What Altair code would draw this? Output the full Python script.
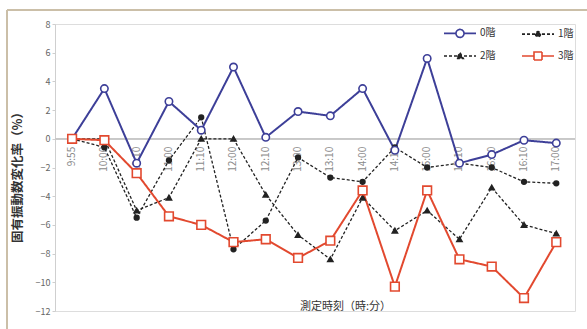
import altair as alt
import pandas as pd

# Measurement times (category axis) and the four series
times = ["9:55", "10:00", "10:10", "11:00", "11:10", "12:00", "12:10", "13:00",
         "13:10", "14:00", "14:10", "15:00", "15:10", "16:00", "16:10", "17:00"]
series_names = ["0階", "1階", "2階", "3階"]
v0 = [0, 3.5, -1.7, 2.6, 0.6, 5.0, 0.1, 1.9, 1.6, 3.5, -0.8, 5.6, -1.7, -1.1, -0.1, -0.3]
v1 = [0, -0.6, -5.5, -1.5, 1.5, -7.7, -5.7, -1.3, -2.7, -3.0, -0.6, -2.0, -1.7, -2.0, -3.0, -3.1]
v2 = [0, 0, -5.0, -4.1, 0, 0, -3.9, -6.7, -8.4, -4.1, -6.4, -5.0, -7.0, -3.4, -6.0, -6.6]
v3 = [0, -0.1, -2.4, -5.4, -6.0, -7.2, -7.0, -8.3, -7.1, -3.6, -10.3, -3.6, -8.4, -8.9, -11.1, -7.2]
y_ticks = [-12, -10, -8, -6, -4, -2, 0, 2, 4, 6, 8]

colors = ["#3d3f98", "#222222", "#222222", "#e2492f"]
fills = ["white", "#222222", "#222222", "white"]
dashes = [[1, 0], [3, 2], [3, 2], [1, 0]]
FONT = "Noto Sans CJK JP"

rows = []
for name, vals in zip(series_names, [v0, v1, v2, v3]):
    for i, (t, v) in enumerate(zip(times, vals)):
        rows.append({"idx": i, "time": t, "series": name, "value": v})
df = pd.DataFrame(rows)
labels_df = pd.DataFrame({"idx": list(range(len(times))), "time": times})

# Legend symbols: a short line with the series marker on it
legend_paths = [
    "M-3.2,0L-0.8,0M0.8,0L3.2,0M0.8,0A0.8,0.8,0,1,1,-0.8,0A0.8,0.8,0,1,1,0.8,0Z",
    "M-3.2,0L3.2,0M0.5,0A0.5,0.5,0,1,1,-0.5,0A0.5,0.5,0,1,1,0.5,0Z",
    "M-3.2,0L3.2,0M0,-0.65L0.65,0.5L-0.65,0.5Z",
    "M-3.2,0L-0.8,0M0.8,0L3.2,0M-0.8,-0.8L0.8,-0.8L0.8,0.8L-0.8,0.8Z",
]

legend = alt.Legend(
    title=None, orient="none", legendX=399, legendY=3, columns=2,
    direction="horizontal", columnPadding=22, rowPadding=7, labelOffset=14,
    symbolSize=100, symbolOpacity=1, symbolStrokeWidth=1.6,
    labelFont=FONT, labelFontSize=10, labelColor="#333333",
)

x_scale = alt.Scale(domain=[-0.53, 15.58], nice=False, zero=False)
y_scale = alt.Scale(domain=[-12, 8], nice=False)
x_axis = alt.Axis(labels=False, ticks=False, domain=False, grid=False,
                  title="測定時刻（時:分）", titleFont=FONT, titleFontSize=11,
                  titleFontWeight="normal", titleColor="#333333",
                  titleX=290, titleY=-5, titleBaseline="middle")
y_axis = alt.Axis(values=y_ticks, grid=False, labelOverlap=False,
                  domainColor="#cfcfcf", tickColor="#cfcfcf", tickSize=3,
                  labelFont=FONT, labelFontSize=9, labelColor="#666666",
                  title="固有振動数変化率（%）", titleFont=FONT, titleFontSize=12.5,
                  titleFontWeight="bold", titleColor="#333333",
                  titleX=-31, titleY=150)

x = alt.X("idx:Q", scale=x_scale, axis=x_axis)
y = alt.Y("value:Q", scale=y_scale, axis=y_axis)
y_zero = alt.YDatum(0, scale=y_scale, axis=y_axis)

base = alt.Chart(df)

zero_line = alt.Chart(labels_df).mark_rule(color="#c8c8c8", strokeWidth=1).encode(y=y_zero)

# Category labels sit just under the zero line, rotated
time_labels = alt.Chart(labels_df).mark_text(
    angle=270, align="right", baseline="middle", dx=-8, fontSize=10,
    font=FONT, color="#8a8a8a"
).encode(x=x, y=y_zero, text="time:N")

def series_line(name, color, width, dash):
    return base.transform_filter(alt.datum.series == name).mark_line(
        color=color, strokeWidth=width, strokeDash=dash).encode(x=x, y=y)

def markers(name, color, shape, size, fill):
    return base.transform_filter(alt.datum.series == name).mark_point(
        shape=shape, size=size, fill=fill, color=color, filled=False,
        opacity=1, strokeWidth=1.6).encode(x=x, y=y)

l0 = series_line("0階", colors[0], 2, [1, 0])
l1 = series_line("1階", colors[1], 1.3, [3, 2])
l2 = series_line("2階", colors[2], 1.3, [3, 2])
l3 = series_line("3階", colors[3], 2, [1, 0])

p0 = markers("0階", colors[0], "circle", 55, "white")
p1 = markers("1階", colors[1], "circle", 22, "#222222")
p2 = markers("2階", colors[2], "triangle-up", 26, "#222222")
p3 = markers("3階", colors[3], "square", 75, "white")

# Invisible layer that carries the legend (line + marker symbols)
legend_layer = base.mark_point(opacity=0, filled=False).encode(
    x=x, y=y,
    color=alt.Color("series:N", scale=alt.Scale(domain=series_names, range=colors), legend=legend),
    shape=alt.Shape("series:N", scale=alt.Scale(domain=series_names, range=legend_paths), legend=legend),
    fill=alt.Fill("series:N", scale=alt.Scale(domain=series_names, range=fills), legend=legend),
    strokeDash=alt.StrokeDash("series:N", scale=alt.Scale(domain=series_names, range=dashes), legend=legend),
)

frame_top = alt.Chart(labels_df).mark_rule(color="#cbbfa8", strokeWidth=1.5).encode(
    x=alt.value(-48), x2=alt.value(540), y=alt.value(-14))
frame_left = alt.Chart(labels_df).mark_rule(color="#cbbfa8", strokeWidth=1.5).encode(
    x=alt.value(-48), y=alt.value(-14), y2=alt.value(320))

chart = alt.layer(
    zero_line, time_labels, l1, l2, l0, l3, p1, p2, p0, p3, legend_layer,
    frame_top, frame_left
).properties(
    width=520, height=287,
    autosize=alt.AutoSizeParams(type="none"),
    padding={"left": 55, "top": 24, "right": 12, "bottom": 18},
).configure_view(stroke=None).configure(background="white")

chart.save("out.html", embed_options={"renderer": "svg", "actions": False})
